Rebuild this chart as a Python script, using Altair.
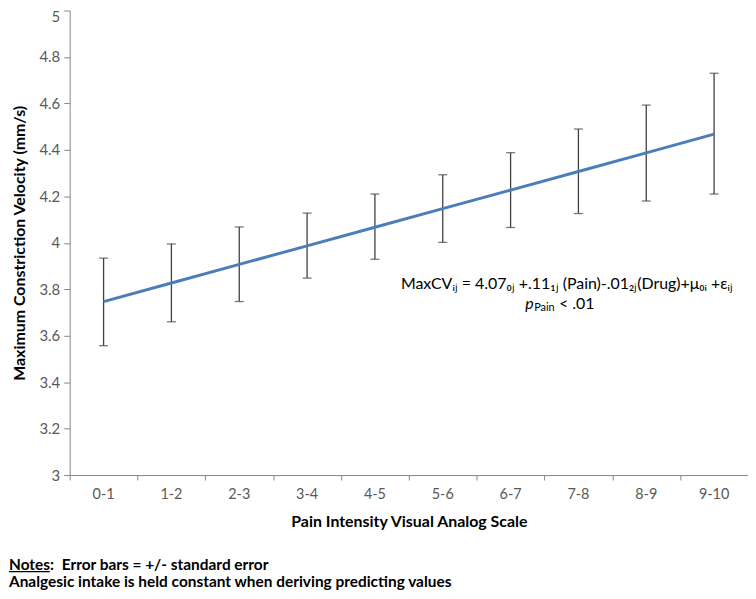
import altair as alt
import pandas as pd

categories = ["0-1", "1-2", "2-3", "3-4", "4-5", "5-6", "6-7", "7-8", "8-9", "9-10"]
predicted = [3.747, 3.827, 3.907, 3.987, 4.067, 4.147, 4.227, 4.307, 4.387, 4.468]
lower = [3.557, 3.660, 3.747, 3.848, 3.929, 4.002, 4.066, 4.126, 4.180, 4.210]
upper = [3.934, 3.995, 4.068, 4.128, 4.210, 4.293, 4.388, 4.490, 4.593, 4.730]
y_ticks = [3.0, 3.2, 3.4, 3.6, 3.8, 4.0, 4.2, 4.4, 4.6, 4.8, 5.0]

df = pd.DataFrame({
    "cat": categories,
    "pos": [i + 0.5 for i in range(len(categories))],
    "pred": predicted,
    "lo": lower,
    "hi": upper,
})

FONT = "Lato"
W, H = 682, 467

x_enc = alt.X(
    "pos:Q",
    scale=alt.Scale(domain=[0, 10], nice=False, zero=False),
    axis=alt.Axis(
        values=list(range(0, 11)),
        labels=False,
        tickSize=5,
        grid=False,
        title="Pain Intensity Visual Analog Scale",
        titlePadding=33,
    ),
)

y_scale = alt.Scale(domain=[3, 5], nice=False, zero=False)
y_axis = alt.Axis(
    values=y_ticks,
    format=".1~f",
    tickSize=6,
    labelPadding=4,
    labelFontSize=15,
    labelOffset={"condition": {"test": "datum.value >= 5", "value": 6}, "value": 0},
    grid=False,
    title="Maximum Constriction Velocity (mm/s)",
    titlePadding=11,
)

base = alt.Chart(df)

rules = base.mark_rule(color="#404040", strokeWidth=1.3).encode(
    x=x_enc, y=alt.Y("lo:Q", scale=y_scale, axis=y_axis), y2="hi:Q"
)
cap_lo = base.mark_tick(orient="horizontal", size=9, thickness=1.3, color="#404040").encode(
    x="pos:Q", y="lo:Q"
)
cap_hi = base.mark_tick(orient="horizontal", size=9, thickness=1.3, color="#404040").encode(
    x="pos:Q", y="hi:Q"
)
line = base.mark_line(color="#4a7ebb", strokeWidth=3).encode(x="pos:Q", y="pred:Q")

xlabels = base.mark_text(
    font=FONT, fontSize=14.5, color="#595959", baseline="middle", align="center"
).encode(x="pos:Q", y=alt.value(H + 20), text="cat:N")


def label(text, x, y, size=15.5, weight="normal", style="normal", align="left", color="black"):
    return alt.Chart(pd.DataFrame({"t": [text]})).mark_text(
        font=FONT, fontSize=size, fontWeight=weight, fontStyle=style,
        align=align, baseline="middle", color=color,
    ).encode(x=alt.value(x), y=alt.value(y), text="t:N")


ann = [
    label("MaxCVᵢⱼ = 4.07₀ⱼ +.11₁ⱼ (Pain)-.01₂ⱼ(Drug)+μ₀ᵢ +εᵢⱼ", 333, 275, size=16),
    label("p", 458, 295, size=16, style="italic"),
    label("Pain", 467, 299, size=11),
    label("< .01", 492, 295, size=16),
    label("Notes:", -61, 557, weight="bold"),
    label("Error bars = +/- standard error", -8, 557, weight="bold"),
    label("Analgesic intake is held constant when deriving predicting values", -61, 575, weight="bold"),
]
underline = alt.Chart(pd.DataFrame({"a": [0]})).mark_rule(color="black", strokeWidth=1.2).encode(
    x=alt.value(-61), x2=alt.value(-20), y=alt.value(564)
)

chart = alt.layer(rules, cap_lo, cap_hi, line, xlabels, *ann, underline).properties(
    width=W,
    height=H,
    autosize="none",
    padding={"left": 62, "top": 1, "right": 0, "bottom": 115},
).configure_view(stroke=None).configure_axis(
    domainColor="#868686",
    tickColor="#868686",
    labelColor="#595959",
    labelFont=FONT,
    titleFont=FONT,
    titleFontSize=16,
    titleFontWeight="bold",
    titleColor="black",
)

chart.save("out.html", embed_options={"renderer": "svg", "actions": False})
